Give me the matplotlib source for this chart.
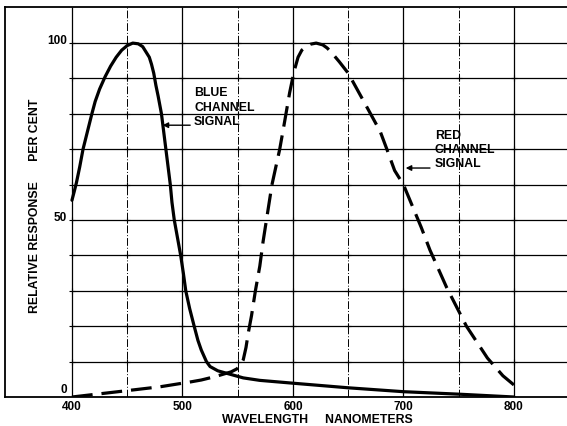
import matplotlib
matplotlib.use("Agg")
import matplotlib.pyplot as plt
import numpy as np

# blue channel (solid)
blue_wl = [400, 402, 404, 407, 410, 414, 418, 421, 425, 430, 435, 440, 445, 450, 455,
           460, 464, 467, 470, 472, 474, 476, 478, 481, 483, 485, 487, 489, 490.5, 492.6,
           495.5, 498.4, 500.8, 503, 506.5, 510.6, 514, 517, 521.7, 525, 532, 540,
           555, 570, 600, 650, 700, 750, 800]
blue_val = [55.6, 58, 60.5, 65, 70, 75, 80, 83.5, 87, 90.5, 93.5, 96, 98, 99.3, 100,
            99.8, 99, 97.5, 96, 94, 91.5, 88, 85, 80, 75, 70, 65, 60, 55, 50,
            45, 40, 35, 30, 25, 20, 16, 13.3, 10, 8.6, 7.4, 6.7,
            5.4, 4.7, 3.9, 2.6, 1.5, 0.8, 0]

# red channel (dashed)
red_wl = [400, 439, 480, 508, 517, 530, 544, 549, 552, 555, 557.5, 559.5, 562.5, 566,
          570, 573, 576.5, 581, 588, 592, 597, 601, 604.6, 608, 612, 616, 621, 627,
          631, 635, 642, 650, 665, 679, 685, 692, 700, 708, 716, 724, 739, 757, 776,
          790, 800]
red_val = [0, 1.4, 2.9, 4.3, 4.8, 5.8, 7.1, 7.9, 8.7, 10.5, 14, 18, 23, 30,
           37, 44, 51, 60, 70, 77, 86, 92, 96, 98, 99, 99.7, 100, 99.5,
           98.6, 97.3, 94.7, 91.5, 83, 75, 70, 64, 60, 54, 48, 41.5, 31, 20, 11,
           6, 3.4]

x_major = [400, 500, 600, 700, 800]
x_minor = [450, 550, 650, 750]
y_grid = [10, 20, 30, 40, 50, 60, 70, 80, 90, 100]
y_ticks = [0, 50, 100]

XMIN, XMAX = 339.4, 848
YMIN, YMAX = 0, 110.2

font = dict(family="Liberation Sans", weight="bold", color="black")

fig = plt.figure(figsize=(5.67, 4.26), dpi=100)
ax = fig.add_axes([5 / 567, 29 / 426, 562 / 567, 390 / 426])
ax.set_xlim(XMIN, XMAX)
ax.set_ylim(YMIN, YMAX)

# grid
ax.hlines(y_grid, 400, XMAX, colors="black", lw=0.9, zorder=1)
ax.vlines(x_major, YMIN, YMAX, colors="black", lw=0.9, zorder=1)
ax.vlines(x_minor, YMIN, YMAX, colors="black", lw=0.7, linestyles=(0, (8, 2, 1, 2)), zorder=1)
gx, gy = np.meshgrid(x_major + x_minor, y_grid)
ax.scatter(gx.ravel(), gy.ravel(), marker="+", s=14, c="black", lw=0.8, zorder=1)

# curves
ax.plot(blue_wl, blue_val, color="black", lw=2.3, solid_capstyle="round",
        solid_joinstyle="round", zorder=3)
ax.plot(red_wl, red_val, color="black", lw=2.3, dashes=(6.5, 2.8), zorder=3)

# annotations
ax.text(510.5, 87.5, "BLUE\nCHANNEL\nSIGNAL", ha="left", va="top", fontsize=8.8,
        linespacing=1.25, **font)
ax.annotate("", xy=(479.5, 76.8), xytext=(509.5, 76.8),
            arrowprops=dict(arrowstyle="-|>", color="black", lw=1, mutation_scale=8))
ax.text(728.5, 75.5, "RED\nCHANNEL\nSIGNAL", ha="left", va="top", fontsize=8.8,
        linespacing=1.25, **font)
ax.annotate("", xy=(699.5, 64.7), xytext=(726.5, 64.7),
            arrowprops=dict(arrowstyle="-|>", color="black", lw=1, mutation_scale=8))

# y tick labels drawn inside the frame
for v in y_ticks:
    off = 2 if v == 0 else 0.7
    ax.text(395.5, v + off, str(v), ha="right", va="center", fontsize=8.5, **font)
ax.text(366.5, 54, "RELATIVE RESPONSE      PER CENT", rotation=90, ha="center",
        va="center", fontsize=8.8, **font)

ax.set_yticks([])
ax.set_xticks(x_major)
ax.set_xticklabels([str(v) for v in x_major], fontsize=8.5, **font)
ax.tick_params(axis="x", length=0, pad=3)
fig.text(317 / 567, 1 - 420 / 426, "WAVELENGTH     NANOMETERS", ha="center",
         va="center", fontsize=8.8, **font)

for side in ["left", "top", "bottom"]:
    ax.spines[side].set_linewidth(1.3)
ax.spines["right"].set_visible(False)

fig.savefig("out.png", dpi=100)
